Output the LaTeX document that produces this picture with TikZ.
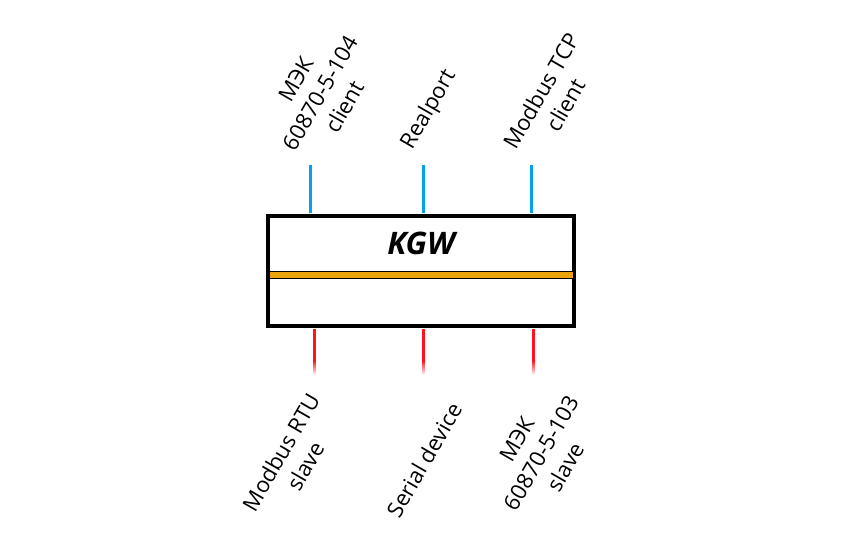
\documentclass[tikz,border=0pt]{standalone}
\usepackage{fontspec}
\setmainfont{Open Sans}
\usetikzlibrary{fadings}
\definecolor{busblue}{RGB}{0,162,232}
\definecolor{busred}{RGB}{255,20,30}
\definecolor{busorange}{RGB}{235,165,10}

\tikzset{
  lbl/.style = {rotate=60, align=center, font=\fontsize{22}{28}\selectfont, inner sep=0pt},
  upbus/.style = {busblue, line width=3},
  downbus/.style = {busred, line width=3},
  downtail/.style = {busred, line width=3, path fading=south}
}

\begin{document}
\begin{tikzpicture}[x=1pt,y=-1pt]
  \useasboundingbox (0,0) rectangle (850,558);
  % gateway box
  \node[draw, line width=4, minimum width=306, minimum height=110, inner sep=0pt] (kgw) at (420.5,270.5) {};
  \node[font=\fontsize{31}{34}\selectfont\bfseries\itshape] (title) at (421,243) {KGW};
  \draw[black, line width=1, fill=busorange] (269,271) rectangle (573,278);
  % upper ports
  \coordinate (u1) at (310,165); \coordinate (u2) at (423,165); \coordinate (u3) at (531,165);
  \draw[upbus] (u1) -- (310,213);
  \draw[upbus] (u2) -- (423,213);
  \draw[upbus] (u3) -- (531,213);
  \node[lbl] (mek104) at (320,93) {МЭК\\60870-5-104\\client};
  \node[lbl] (realport) at (429,110) {Realport};
  \node[lbl] (tcp) at (553,98) {Modbus TCP\\client};
  % lower ports
  \coordinate (d1) at (314,374); \coordinate (d2) at (423,374); \coordinate (d3) at (533,374);
  \foreach \px in {314,423,533} {
    \draw[downbus] (\px,329) -- (\px,362);
    \draw[downtail] (\px,362) -- (\px,374);
  }
  \node[lbl] (rtu) at (293,459) {Modbus RTU\\slave};
  \node[lbl] (serial) at (424,460) {Serial device};
  \node[lbl] (mek103) at (541,453) {МЭК\\60870-5-103\\slave};
\end{tikzpicture}
\end{document}
